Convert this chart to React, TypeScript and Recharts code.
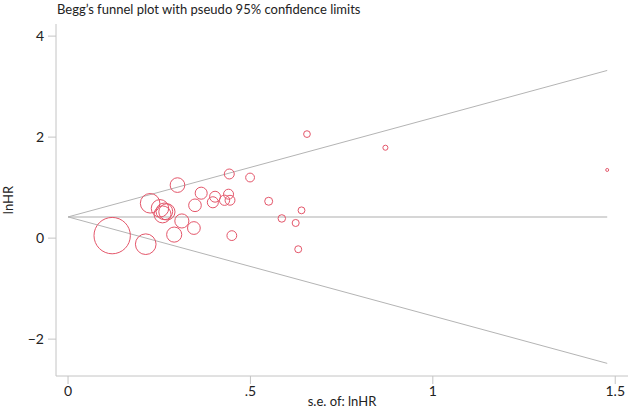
import React from 'react';
import { Scatter, ScatterChart, XAxis, YAxis } from 'recharts';

// study estimates
const seValues = [
  0.121, 0.213, 0.225, 0.3, 0.252, 0.264, 0.259, 0.271, 0.312, 0.291, 0.345, 0.348, 0.365, 0.397, 0.403,
  0.429, 0.44, 0.444, 0.442, 0.499, 0.55, 0.449, 0.586, 0.655, 0.87, 0.64, 0.624, 0.631, 1.478,
];
const lnHRValues = [
  0.05, -0.12, 0.69, 1.05, 0.59, 0.53, 0.47, 0.52, 0.34, 0.07, 0.2, 0.65, 0.89, 0.71, 0.82, 0.75, 0.87,
  0.75, 1.27, 1.2, 0.73, 0.05, 0.39, 2.06, 1.79, 0.55, 0.3, -0.22, 1.35,
];

// pooled estimate and pseudo 95% limits at the ends of the funnel
const pooledLine = [
  { se: 0, lnHR: 0.42 },
  { se: 1.478, lnHR: 0.42 },
];
const upperLimit = [
  { se: 0, lnHR: 0.42 },
  { se: 1.478, lnHR: 3.32 },
];
const lowerLimit = [
  { se: 0, lnHR: 0.42 },
  { se: 1.478, lnHR: -2.48 },
];

const xTicks = [0, 0.5, 1, 1.5];
const yTicks = [-2, 0, 2, 4];

const studies = seValues.map((se, i) => ({ se, lnHR: lnHRValues[i] }));

const FONT = 'Lato, sans-serif';
const AXIS = '#c4c4c4';
const TEXT = '#222';

const formatX = (v: number) => (v === 0.5 ? '.5' : String(v));
const formatY = (v: number) => (v < 0 ? `\u2212${Math.abs(v)}` : String(v));

const StudyCircle = (props: any) => {
  const { cx, cy, payload } = props;
  return <circle cx={cx} cy={cy} r={2.2 / payload.se} fill="none" stroke="#e4566a" strokeWidth={1} />;
};

const NoDot = () => null;

const XTitle = () => (
  <text x={342} y={406} textAnchor="middle" fill={TEXT} fontSize={13} fontFamily={FONT}>
    s.e. of: lnHR
  </text>
);

const YTitle = () => (
  <text x={13} y={200} transform="rotate(-90 13 200)" textAnchor="middle" fill={TEXT} fontSize={13} fontFamily={FONT}>
    lnHR
  </text>
);

const App = () => {
  return (
    <div style={{ position: 'absolute', left: 0, top: 0, width: 630, height: 411, background: '#fff', fontFamily: FONT }}>
      <div style={{ position: 'absolute', left: 57, top: 1, fontSize: 13, color: TEXT }}>
        Begg’s funnel plot with pseudo 95% confidence limits
      </div>
      <ScatterChart width={630} height={411} margin={{ top: 24, right: 2, left: 0, bottom: 0 }}>
        <XAxis
          type="number"
          dataKey="se"
          domain={[-0.033, 1.535]}
          ticks={xTicks}
          tickFormatter={formatX}
          allowDataOverflow
          height={35}
          stroke={AXIS}
          tickSize={8}
          tick={{ fill: TEXT, fontSize: 14, fontFamily: FONT }}
          label={XTitle}
        />
        <YAxis
          type="number"
          dataKey="lnHR"
          domain={[-2.73, 4.24]}
          ticks={yTicks}
          tickFormatter={formatY}
          allowDataOverflow
          width={56}
          stroke={AXIS}
          tickSize={8}
          tickMargin={4}
          tick={{ fill: TEXT, fontSize: 14, fontFamily: FONT }}
          label={YTitle}
        />
        <Scatter data={pooledLine} line={{ stroke: '#d6d6d6', strokeWidth: 2 }} shape={NoDot} isAnimationActive={false} />
        <Scatter data={upperLimit} line={{ stroke: '#b4b4b4', strokeWidth: 1 }} shape={NoDot} isAnimationActive={false} />
        <Scatter data={lowerLimit} line={{ stroke: '#b4b4b4', strokeWidth: 1 }} shape={NoDot} isAnimationActive={false} />
        <Scatter data={studies} shape={StudyCircle} isAnimationActive={false} />
      </ScatterChart>
    </div>
  );
};

export default App;
